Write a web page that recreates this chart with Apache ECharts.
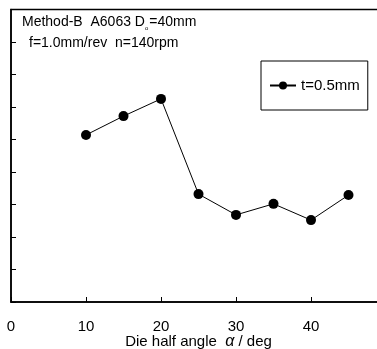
<!DOCTYPE html>
<html>
<head>
<meta charset="utf-8">
<script src="https://cdn.jsdelivr.net/npm/echarts@6/dist/echarts.min.js"></script>
<style>
  html, body { margin: 0; padding: 0; background: #fff; }
  #chart { width: 377px; height: 349px; }
</style>
</head>
<body>
<div id="chart"></div>
<script>
// die half angle (deg)
var angles = [10, 15, 20, 25, 30, 35, 40, 45];
// t=0.5mm series (y scale has no labels in the picture)
var valuesT05 = [5.14, 5.72, 6.25, 3.32, 2.68, 3.02, 2.52, 3.29];

var font = 'Liberation Sans, Arial, sans-serif';
var chart = echarts.init(document.getElementById('chart'));

var option = {
  animation: false,
  textStyle: { fontFamily: font },
  grid: {
    left: 11, top: 9.5, width: 375, height: 292.5,
    containLabel: false, outerBoundsMode: 'none',
    show: true, borderColor: '#000', borderWidth: 1.5
  },
  graphic: [
    {
      type: 'text', left: 22, top: 15,
      style: {
        text: '{a|Method-B  A6063 D}{s|o}{a|=40mm}',
        rich: {
          a: { fontSize: 14, fontFamily: font, fill: '#000' },
          s: { fontSize: 6, fontFamily: font, fill: '#000', padding: [12, 1, 0, 0] }
        }
      }
    },
    {
      type: 'text', left: 29, top: 36,
      style: { text: 'f=1.0mm/rev  n=140rpm', fontSize: 14, fontFamily: font, fill: '#000' }
    }
  ],
  legend: {
    left: 261, top: 61,
    padding: [17, 8, 17, 8],
    borderColor: '#000', borderWidth: 1,
    itemWidth: 26, itemHeight: 10, itemGap: 5,
    textStyle: { fontSize: 15, color: '#000', fontFamily: font },
    data: ['t=0.5mm']
  },
  xAxis: {
    type: 'value', min: 0, max: 50, interval: 10,
    name: '{t|Die half angle  }{g|α}{t| / deg}',
    nameLocation: 'middle', nameGap: 32, nameMoveOverlap: false,
    nameTextStyle: {
      rich: {
        t: { fontSize: 15, color: '#000', fontFamily: font },
        g: { fontSize: 16, color: '#000', fontFamily: font, fontStyle: 'italic' }
      }
    },
    axisLine: { lineStyle: { color: '#000', width: 1.5 } },
    axisTick: { inside: true, length: 5, lineStyle: { color: '#000' } },
    axisLabel: { fontSize: 15, color: '#000', margin: 17, showMaxLabel: true },
    splitLine: { show: false }
  },
  yAxis: {
    type: 'value', min: 0, max: 9, interval: 1,
    axisLine: { show: true, lineStyle: { color: '#000', width: 1.5 } },
    axisTick: { show: true, inside: true, length: 5, lineStyle: { color: '#000' } },
    axisLabel: { show: false },
    splitLine: { show: false }
  },
  series: [{
    name: 't=0.5mm',
    type: 'line',
    data: angles.map(function (a, i) { return [a, valuesT05[i]]; }),
    symbol: 'circle', symbolSize: 10,
    itemStyle: { color: '#000' },
    lineStyle: { color: '#000', width: 1 }
  }]
};
chart.setOption(option);
</script>
</body>
</html>
